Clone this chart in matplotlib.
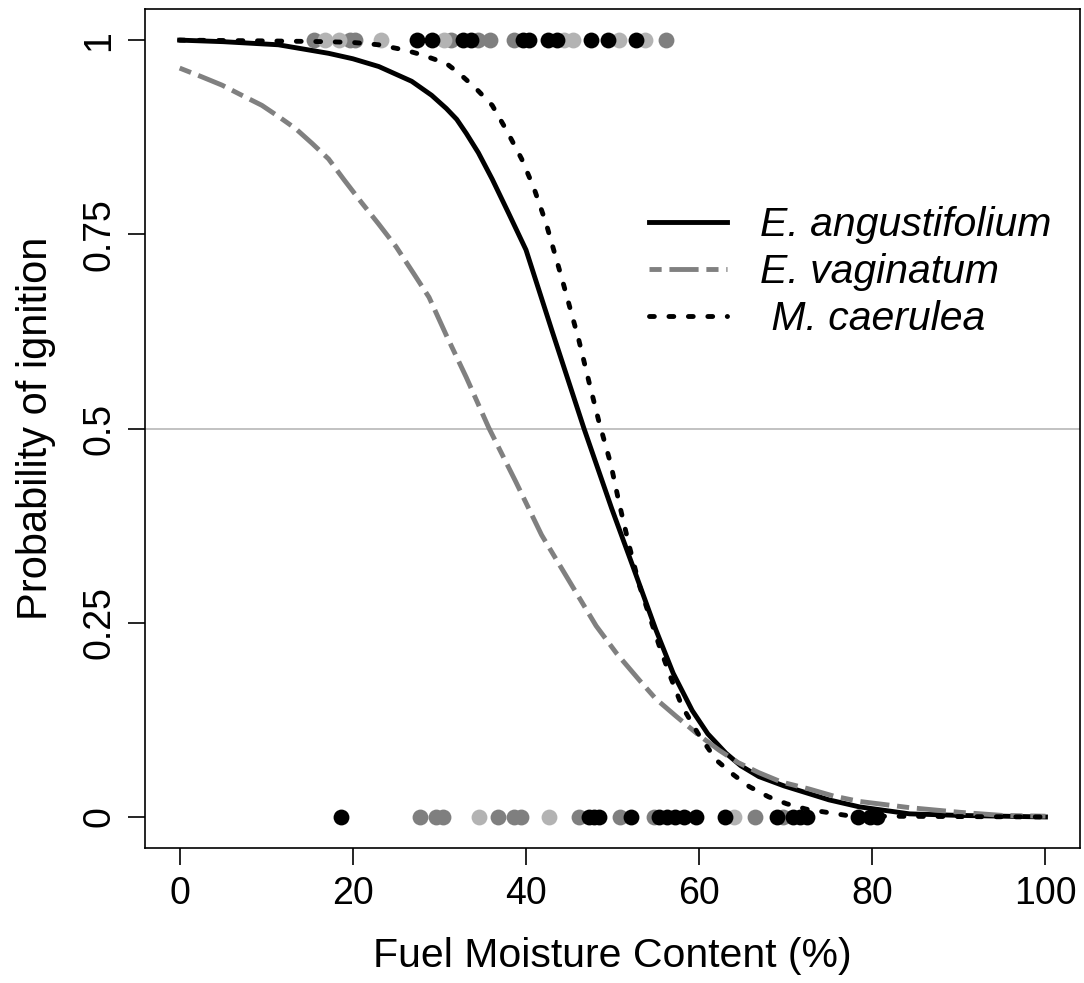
import matplotlib
matplotlib.use("Agg")
import matplotlib.pyplot as plt
import numpy as np

plt.rcParams['font.family'] = ['Liberation Sans', 'DejaVu Sans']

# fitted curves (moisture %, probability)
ang_x = [0, 5, 11.4, 17.2, 20, 23, 26.8, 29.1, 30.8, 32.0, 33.1, 34.5, 36.1, 38.0,
         40.0, 43.0, 46.7, 49.9, 52.3, 55.0, 57.0, 59.2, 61.0, 63.1, 64.8, 66.9,
         69.8, 72.7, 75.0, 78.5, 84.3, 90, 100]
ang_p = [1.0, 0.998, 0.994, 0.983, 0.976, 0.966, 0.947, 0.929, 0.912, 0.898, 0.880,
         0.855, 0.821, 0.777, 0.730, 0.626, 0.50, 0.397, 0.324, 0.241, 0.185, 0.137,
         0.107, 0.082, 0.066, 0.052, 0.040, 0.030, 0.022, 0.013, 0.004, 0.002, 0.0]

vag_x = [0, 2.5, 4.9, 7.0, 9.5, 11.5, 13.4, 15.3, 17.2, 19.0, 21.0, 23.0, 25.0, 27.0,
         28.8, 30.8, 33.1, 35.7, 38.8, 41.8, 44.6, 48.1, 50.5, 53.1, 55.0, 57.3, 60.0,
         62.3, 64.5, 66.9, 69.5, 72.7, 75.5, 78.5, 84.3, 90.1, 95, 100]
vag_p = [0.964, 0.953, 0.942, 0.930, 0.916, 0.901, 0.886, 0.867, 0.847, 0.820, 0.791,
         0.763, 0.734, 0.700, 0.669, 0.620, 0.566, 0.501, 0.432, 0.363, 0.311, 0.246,
         0.210, 0.176, 0.152, 0.130, 0.105, 0.086, 0.070, 0.057, 0.045, 0.036, 0.027,
         0.020, 0.012, 0.006, 0.002, 0.001]

cae_x = [0, 10, 17, 20, 23, 26.1, 28.0, 30.8, 32.3, 34.2, 36.1, 37.8, 39.5, 40.9,
         42.3, 44.2, 46.1, 47.3, 48.4, 49.8, 50.8, 51.9, 53.1, 55.4, 56.7, 58.0, 60.0,
         62.0, 64.0, 65.8, 68.0, 70.1, 72.4, 74.7, 77, 80, 100]
cae_p = [1.0, 0.999, 0.998, 0.997, 0.994, 0.987, 0.981, 0.970, 0.957, 0.938, 0.916,
         0.883, 0.847, 0.810, 0.765, 0.691, 0.614, 0.559, 0.510, 0.454, 0.402, 0.350,
         0.298, 0.220, 0.180, 0.143, 0.105, 0.073, 0.054, 0.039, 0.026, 0.017, 0.010,
         0.006, 0.002, 0.001, 0.0]

# observations: ignited (1) and not ignited (0), grouped by point shade
ign_black = [27.4, 29.2, 32.7, 33.7, 39.6, 40.3, 42.5, 43.6, 47.5, 49.5, 52.7]
ign_grey = [15.5, 19.7, 20.3, 31.3, 34.5, 35.9, 38.6, 56.2]
ign_light = [16.8, 18.4, 23.2, 30.5, 44.4, 45.4, 50.8, 53.8]

non_black = [18.6, 47.3, 47.9, 48.4, 52.1, 55.4, 56.3, 57.2, 58.2, 59.6, 63.0, 69.0,
             70.8, 71.7, 72.5, 78.3, 79.7, 80.5]
non_grey = [27.8, 29.6, 30.4, 36.8, 38.6, 39.4, 46.1, 50.9, 54.8, 66.5, 69.7]
non_light = [34.6, 42.7, 64.0]

shades = {'black': '#000000', 'grey': '#7f7f7f', 'light': '#b3b3b3'}

fig = plt.figure(figsize=(10.84, 9.83), dpi=100)
ax = fig.add_axes([0.1338, 0.1373, 0.8626, 0.8535])

ax.axhline(0.5, color='#b8b8b8', lw=1.2, zorder=1)

for xs, c in [(ign_grey, 'grey'), (ign_light, 'light'), (ign_black, 'black')]:
    ax.scatter(xs, np.ones(len(xs)), s=130, color=shades[c], lw=0, zorder=2)
for xs, c in [(non_grey, 'grey'), (non_light, 'light'), (non_black, 'black')]:
    ax.scatter(xs, np.zeros(len(xs)), s=130, color=shades[c], lw=0, zorder=2)

ax.plot(ang_x, ang_p, color='black', lw=3.5, zorder=3, label='E. angustifolium')
ax.plot(vag_x, vag_p, color='#808080', lw=3.5, ls=(0, (2.5, 1.6, 6, 1.6)), zorder=3,
        label='E. vaginatum')
ax.plot(cae_x, cae_p, color='black', lw=3.5, ls=(0, (1, 3)), zorder=3,
        dash_capstyle='round', label=' M. caerulea')

ax.set_xlim(-4, 104)
ax.set_ylim(-0.04, 1.04)
ax.set_xticks([0, 20, 40, 60, 80, 100])
ax.set_yticks([0, 0.25, 0.5, 0.75, 1])
ax.set_yticklabels(['0', '0.25', '0.5', '0.75', '1'], rotation=90, va='center')
ax.tick_params(labelsize=27, length=12, width=1.2, pad=8)
for s in ax.spines.values():
    s.set_linewidth(1.2)

ax.set_xlabel('Fuel Moisture Content (%)', fontsize=29.5, labelpad=18)
ax.set_ylabel('Probability of ignition', fontsize=30, labelpad=18)

leg = ax.legend(loc='upper left', bbox_to_anchor=(0.50, 0.809), frameon=False,
                handlelength=1.9, handletextpad=0.8, labelspacing=0.22,
                prop={'style': 'italic', 'size': 29.5})

fig.savefig('out.png', dpi=100)
